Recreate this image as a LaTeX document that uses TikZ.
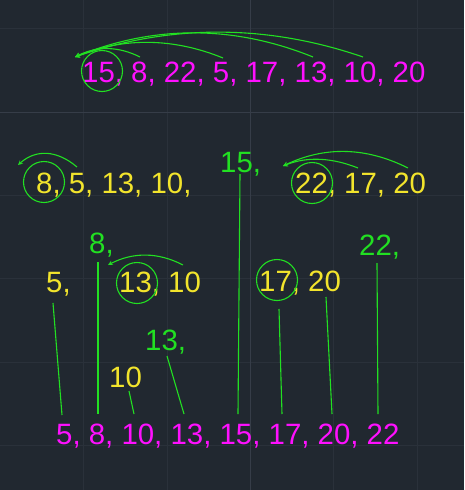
\documentclass[tikz,border=0pt]{standalone}
\usepackage{fontspec}
\setmainfont{Liberation Sans}
\usetikzlibrary{arrows}
\definecolor{bg}{HTML}{212830}
\definecolor{gridminor}{HTML}{2A313A}
\definecolor{gridmajor}{HTML}{363D48}
\definecolor{mag}{HTML}{FF10FF}
\definecolor{yel}{HTML}{F2E42C}
\definecolor{grn}{HTML}{22E022}

\begin{document}
\begin{tikzpicture}[x=1pt,y=-1pt]
    \tikzstyle num=[anchor=base west,inner sep=0pt,font=\fontsize{29.4}{34}\selectfont]
    \tikzstyle given=[num,mag]
    \tikzstyle part=[num,yel]
    \tikzstyle picked=[num,grn]
    \tikzstyle ring=[line width=1.1pt,grn]
    \tikzstyle drop=[line width=1.1pt,grn]
    \tikzstyle move=[line width=1.1pt,grn,->,>=stealth]
    \fill[bg] (0,0) rectangle (464,490);
    \useasboundingbox (0,0) rectangle (464,490);
    \foreach \gx in {83.3,166.7,333.3,416.7}
        \draw[gridminor] (\gx,0) -- (\gx,490);
    \foreach \gy in {28.3,195,278.3,361.7,445}
        \draw[gridminor] (0,\gy) -- (464,\gy);
    \draw[gridmajor] (250,0) -- (250,490);
    \draw[gridmajor] (0,111.7) -- (464,111.7);
    % input list
    \node[given] (input) at (82,82) {15, 8, 22, 5, 17, 13, 10, 20};
    \draw[ring] (102,71) circle (20.5);
    \coordinate (pivA) at (75,57);
    \coordinate (from8) at (140,57);
    \coordinate (from5) at (223,58);
    \coordinate (from13) at (313,57);
    \coordinate (from10) at (363,57);
    \draw[move] (from8) .. controls (118,46) and (97,46) .. (pivA);
    \draw[move] (from5) .. controls (174,38) and (124,37) .. (pivA);
    \draw[move] (from13) .. controls (234,25) and (154,25) .. (pivA);
    \draw[move] (from10) .. controls (267,24) and (171,24) .. (pivA);
    % first split
    \node[part] (lowA) at (36,193) {8, 5, 13, 10,};
    \node[picked] (p15) at (220,172) {15,};
    \node[part] (highA) at (295,193) {22, 17, 20};
    \draw[ring] (44,182) circle (20.5);
    \draw[ring] (312,183) circle (20.5);
    \coordinate (pivB) at (18,165);
    \coordinate (lowfrom) at (77,167);
    \draw[move] (lowfrom) .. controls (57,150) and (36,149) .. (pivB);
    \coordinate (pivC) at (283,166);
    \coordinate (from17) at (358,168);
    \coordinate (from20) at (408,168);
    \draw[move] (from17) .. controls (333,158) and (308,156) .. (pivC);
    \draw[move] (from20) .. controls (366,147) and (325,146) .. (pivC);
    % second split
    \node[part] (p5) at (46,292) {5,};
    \node[picked] (p8) at (89,253) {8,};
    \node[part] (lowB) at (119,292) {13, 10};
    \node[part] (highB) at (259,291) {17, 20};
    \node[picked] (p22) at (359,255) {22,};
    \draw[ring] (137,283) circle (20.5);
    \draw[ring] (277,280) circle (20.5);
    \coordinate (pivD) at (108,265);
    \coordinate (from10b) at (183,265);
    \draw[move] (from10b) .. controls (158,252) and (133,252) .. (pivD);
    % third split
    \node[picked] (p13) at (145,350) {13,};
    \node[part] (p10) at (109,387) {10};
    % sorted list
    \node[given] (output) at (56,444) {5, 8, 10, 13, 15, 17, 20, 22};
    \coordinate (t5) at (53,303);   \coordinate (b5) at (62,415);
    \coordinate (t8) at (98,262);   \coordinate (b8) at (98,414);
    \coordinate (t10) at (129,391); \coordinate (b10) at (134,414);
    \coordinate (t13) at (167,356); \coordinate (b13) at (184,414);
    \coordinate (t15) at (240,174); \coordinate (b15) at (238,414);
    \coordinate (t17) at (279,309); \coordinate (b17) at (282,414);
    \coordinate (t20) at (326,297); \coordinate (b20) at (332,414);
    \coordinate (t22) at (377,263); \coordinate (b22) at (378,414);
    \foreach \v in {5,8,10,13,15,17,20,22}
        \draw[drop] (t\v) -- (b\v);
\end{tikzpicture}
\end{document}
